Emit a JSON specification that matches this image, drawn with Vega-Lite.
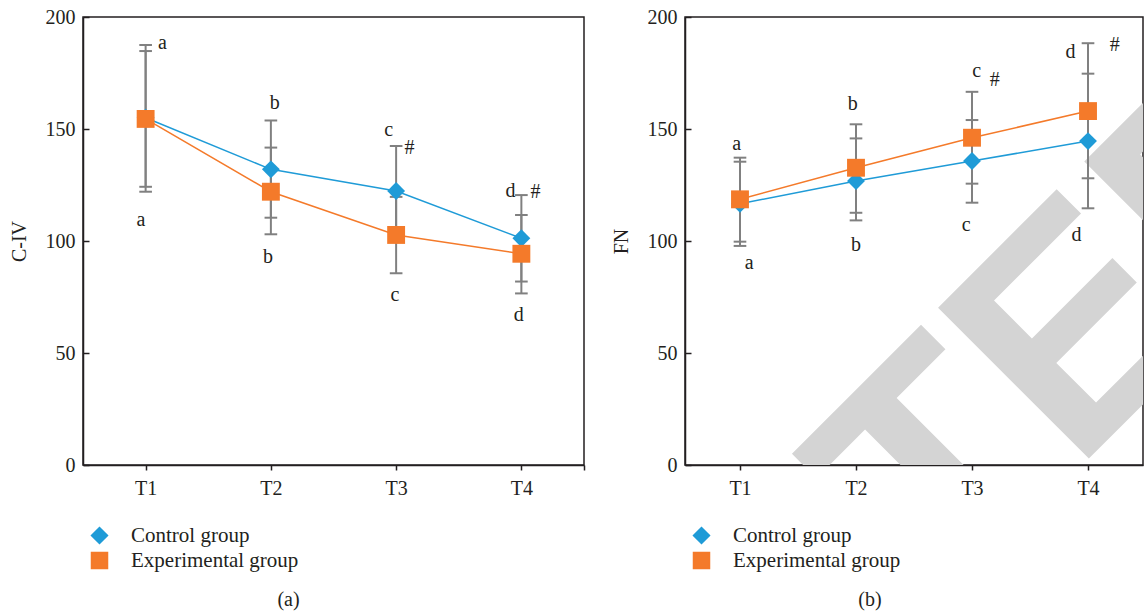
{
  "$schema": "https://vega.github.io/schema/vega-lite/v6.json",
  "background": "white",
  "padding": {"left": 8, "top": 6, "right": 0, "bottom": 0},
  "datasets": {
    "pts": [
      {"panel": "a", "group": "Control group", "t": 1, "mean": 155.0, "lo": 122.0, "hi": 187.5},
      {"panel": "a", "group": "Control group", "t": 2, "mean": 132.0, "lo": 110.4, "hi": 153.8},
      {"panel": "a", "group": "Control group", "t": 3, "mean": 122.3, "lo": 102.3, "hi": 142.4},
      {"panel": "a", "group": "Control group", "t": 4, "mean": 101.2, "lo": 81.9, "hi": 120.5},
      {"panel": "a", "group": "Experimental group", "t": 1, "mean": 154.5, "lo": 124.2, "hi": 184.8},
      {"panel": "a", "group": "Experimental group", "t": 2, "mean": 122.0, "lo": 103.0, "hi": 141.7},
      {"panel": "a", "group": "Experimental group", "t": 3, "mean": 102.7, "lo": 85.6, "hi": 119.7},
      {"panel": "a", "group": "Experimental group", "t": 4, "mean": 94.3, "lo": 76.6, "hi": 111.6},
      {"panel": "b", "group": "Control group", "t": 1, "mean": 116.6, "lo": 97.8, "hi": 135.4},
      {"panel": "b", "group": "Control group", "t": 2, "mean": 126.8, "lo": 109.2, "hi": 145.8},
      {"panel": "b", "group": "Control group", "t": 3, "mean": 135.7, "lo": 117.1, "hi": 154.0},
      {"panel": "b", "group": "Control group", "t": 4, "mean": 144.6, "lo": 114.6, "hi": 174.7},
      {"panel": "b", "group": "Experimental group", "t": 1, "mean": 118.6, "lo": 99.7, "hi": 137.2},
      {"panel": "b", "group": "Experimental group", "t": 2, "mean": 132.7, "lo": 112.6, "hi": 152.1},
      {"panel": "b", "group": "Experimental group", "t": 3, "mean": 146.1, "lo": 125.6, "hi": 166.6},
      {"panel": "b", "group": "Experimental group", "t": 4, "mean": 158.0, "lo": 128.0, "hi": 188.3}
    ],
    "labels": [
      {"panel": "a", "t": 1.135, "v": 185.7, "label": "a"},
      {"panel": "a", "t": 0.963, "v": 106.7, "label": "a"},
      {"panel": "a", "t": 2.03, "v": 158.9, "label": "b"},
      {"panel": "a", "t": 1.977, "v": 90.2, "label": "b"},
      {"panel": "a", "t": 2.94, "v": 146.9, "label": "c"},
      {"panel": "a", "t": 3.107, "v": 138.8, "label": "#"},
      {"panel": "a", "t": 2.99, "v": 73.2, "label": "c"},
      {"panel": "a", "t": 3.913, "v": 119.6, "label": "d"},
      {"panel": "a", "t": 4.113, "v": 119.2, "label": "#"},
      {"panel": "a", "t": 3.98, "v": 64.3, "label": "d"},
      {"panel": "b", "t": 0.972, "v": 140.6, "label": "a"},
      {"panel": "b", "t": 1.08, "v": 87.5, "label": "a"},
      {"panel": "b", "t": 1.972, "v": 158.5, "label": "b"},
      {"panel": "b", "t": 2.0, "v": 95.5, "label": "b"},
      {"panel": "b", "t": 3.04, "v": 173.2, "label": "c"},
      {"panel": "b", "t": 3.196, "v": 169.2, "label": "#"},
      {"panel": "b", "t": 2.95, "v": 104.5, "label": "c"},
      {"panel": "b", "t": 3.85, "v": 181.7, "label": "d"},
      {"panel": "b", "t": 4.23, "v": 184.8, "label": "#"},
      {"panel": "b", "t": 3.9, "v": 100.0, "label": "d"}
    ],
    "stamp": [
      {"t": 0.113, "v": -140.1, "label": "RETRACTED"}
    ]
  },
  "hconcat": [
    {
      "width": 501,
      "height": 448,
      "title": {"text": "(a)", "orient": "bottom", "dx": -45, "offset": 18},
      "layer": [
        {
          "data": {"name": "pts"},
          "transform": [{"filter": "datum.panel === 'a'"}],
          "mark": {"type": "rule", "color": "#808080", "strokeWidth": 2},
          "encoding": {
            "x": {"field": "t", "type": "quantitative", "title": null, "scale": {"domain": [0.5, 4.5], "nice": false, "zero": false},
                  "axis": {"values": [1, 2, 3, 4, 4.5], "labelExpr": "datum.value > 4.2 ? '' : 'T' + datum.value"}},
            "y": {"field": "lo", "type": "quantitative", "title": "C-IV", "scale": {"domain": [0, 200], "nice": false},
                  "axis": {"values": [0, 50, 100, 150, 200]}},
            "y2": {"field": "hi"}
          }
        },
        {
          "data": {"name": "pts"},
          "transform": [{"filter": "datum.panel === 'a'"}],
          "mark": {"type": "point", "shape": "stroke", "size": 160, "color": "#808080", "strokeWidth": 2, "opacity": 1},
          "encoding": {
            "x": {"field": "t", "type": "quantitative", "title": null},
            "y": {"field": "lo", "type": "quantitative", "title": "C-IV"}
          }
        },
        {
          "data": {"name": "pts"},
          "transform": [{"filter": "datum.panel === 'a'"}],
          "mark": {"type": "point", "shape": "stroke", "size": 160, "color": "#808080", "strokeWidth": 2, "opacity": 1},
          "encoding": {
            "x": {"field": "t", "type": "quantitative", "title": null},
            "y": {"field": "hi", "type": "quantitative", "title": "C-IV"}
          }
        },
        {
          "data": {"name": "pts"},
          "transform": [{"filter": "datum.panel === 'a'"}],
          "mark": {"type": "line", "strokeWidth": 1.5},
          "encoding": {
            "x": {"field": "t", "type": "quantitative", "title": null},
            "y": {"field": "mean", "type": "quantitative", "title": "C-IV"},
            "color": {"field": "group", "type": "nominal", "title": null,
                      "scale": {"domain": ["Control group", "Experimental group"], "range": ["#1f9bd7", "#f47a2a"]},
                      "legend": {"orient": "none", "legendX": 6, "legendY": 508, "symbolSize": 256, "rowPadding": 2, "labelOffset": 21, "labelLimit": 400,
                        "labelFont": "Liberation Serif", "labelFontSize": 21, "labelColor": "#231f20", "symbolStrokeWidth": 1.5}}
          }
        },
        {
          "data": {"name": "pts"},
          "transform": [{"filter": "datum.panel === 'a'"}],
          "mark": {"type": "point", "filled": true, "size": 320, "opacity": 1},
          "encoding": {
            "x": {"field": "t", "type": "quantitative", "title": null},
            "y": {"field": "mean", "type": "quantitative", "title": "C-IV"},
            "color": {"field": "group", "type": "nominal", "title": null},
            "shape": {"field": "group", "type": "nominal", "scale": {"domain": ["Control group", "Experimental group"], "range": ["diamond", "square"]}, "legend": null}
          }
        },
        {
          "data": {"name": "labels"},
          "transform": [{"filter": "datum.panel === 'a'"}],
          "mark": {"type": "text", "fontSize": 20, "font": "Liberation Serif", "color": "#231f20", "baseline": "alphabetic", "align": "center"},
          "encoding": {
            "x": {"field": "t", "type": "quantitative", "title": null},
            "y": {"field": "v", "type": "quantitative", "title": "C-IV"},
            "text": {"field": "label"}
          }
        }
      ]
    },
    {
      "width": 458,
      "height": 448,
      "title": {"text": "(b)", "orient": "bottom", "dx": -44, "offset": 18},
      "layer": [
        {
          "data": {"name": "stamp"},
          "mark": {"type": "text", "clip": true, "font": "Liberation Sans", "fontWeight": "bold", "fontSize": 310, "angle": -45, "color": "#d4d4d4", "align": "center", "baseline": "middle"},
          "encoding": {
            "x": {"field": "t", "type": "quantitative", "title": null},
            "y": {"field": "v", "type": "quantitative", "title": "FN"},
            "text": {"field": "label"}
          }
        },
        {
          "data": {"name": "pts"},
          "transform": [{"filter": "datum.panel === 'b'"}],
          "mark": {"type": "rule", "color": "#808080", "strokeWidth": 2},
          "encoding": {
            "x": {"field": "t", "type": "quantitative", "title": null, "scale": {"domain": [0.526, 4.474], "nice": false, "zero": false},
                  "axis": {"values": [1, 2, 3, 4], "labelExpr": "'T' + datum.value"}},
            "y": {"field": "lo", "type": "quantitative", "title": "FN", "scale": {"domain": [0, 200], "nice": false},
                  "axis": {"values": [0, 50, 100, 150, 200]}},
            "y2": {"field": "hi"}
          }
        },
        {
          "data": {"name": "pts"},
          "transform": [{"filter": "datum.panel === 'b'"}],
          "mark": {"type": "point", "shape": "stroke", "size": 160, "color": "#808080", "strokeWidth": 2, "opacity": 1},
          "encoding": {
            "x": {"field": "t", "type": "quantitative", "title": null},
            "y": {"field": "lo", "type": "quantitative", "title": "FN"}
          }
        },
        {
          "data": {"name": "pts"},
          "transform": [{"filter": "datum.panel === 'b'"}],
          "mark": {"type": "point", "shape": "stroke", "size": 160, "color": "#808080", "strokeWidth": 2, "opacity": 1},
          "encoding": {
            "x": {"field": "t", "type": "quantitative", "title": null},
            "y": {"field": "hi", "type": "quantitative", "title": "FN"}
          }
        },
        {
          "data": {"name": "pts"},
          "transform": [{"filter": "datum.panel === 'b'"}],
          "mark": {"type": "line", "strokeWidth": 1.5},
          "encoding": {
            "x": {"field": "t", "type": "quantitative", "title": null},
            "y": {"field": "mean", "type": "quantitative", "title": "FN"},
            "color": {"field": "group", "type": "nominal", "title": null,
                      "scale": {"domain": ["Control group", "Experimental group"], "range": ["#1f9bd7", "#f47a2a"]},
                      "legend": {"orient": "none", "legendX": 6, "legendY": 508, "symbolSize": 256, "rowPadding": 2, "labelOffset": 21, "labelLimit": 400,
                        "labelFont": "Liberation Serif", "labelFontSize": 21, "labelColor": "#231f20", "symbolStrokeWidth": 1.5}}
          }
        },
        {
          "data": {"name": "pts"},
          "transform": [{"filter": "datum.panel === 'b'"}],
          "mark": {"type": "point", "filled": true, "size": 320, "opacity": 1},
          "encoding": {
            "x": {"field": "t", "type": "quantitative", "title": null},
            "y": {"field": "mean", "type": "quantitative", "title": "FN"},
            "color": {"field": "group", "type": "nominal", "title": null},
            "shape": {"field": "group", "type": "nominal", "scale": {"domain": ["Control group", "Experimental group"], "range": ["diamond", "square"]}, "legend": null}
          }
        },
        {
          "data": {"name": "labels"},
          "transform": [{"filter": "datum.panel === 'b'"}],
          "mark": {"type": "text", "fontSize": 20, "font": "Liberation Serif", "color": "#231f20", "baseline": "alphabetic", "align": "center"},
          "encoding": {
            "x": {"field": "t", "type": "quantitative", "title": null},
            "y": {"field": "v", "type": "quantitative", "title": "FN"},
            "text": {"field": "label"}
          }
        }
      ]
    }
  ],
  "spacing": 24,
  "resolve": {"legend": {"color": "independent", "shape": "independent"}, "scale": {"color": "independent", "shape": "independent", "x": "independent", "y": "independent"}},
  "config": {
    "font": "Liberation Serif",
    "view": {"stroke": "#231f20", "strokeWidth": 1.5},
    "axis": {"domainColor": "#231f20", "domainWidth": 1.5, "tickColor": "#231f20", "tickWidth": 1.5, "labelColor": "#231f20", "labelFontSize": 20, "labelFont": "Liberation Serif", "titleFontSize": 20, "titleFont": "Liberation Serif", "titleFontWeight": "normal", "titleColor": "#231f20", "grid": false},
    "axisY": {"tickSize": -6, "labelPadding": 14, "titlePadding": 16},
    "axisX": {"tickSize": 5, "labelPadding": 8},
    "legend": {"title": null, "labelFont": "Liberation Serif", "labelLimit": 400},
    "title": {"font": "Liberation Serif", "fontSize": 20, "fontWeight": "normal", "color": "#231f20"}
  }
}
